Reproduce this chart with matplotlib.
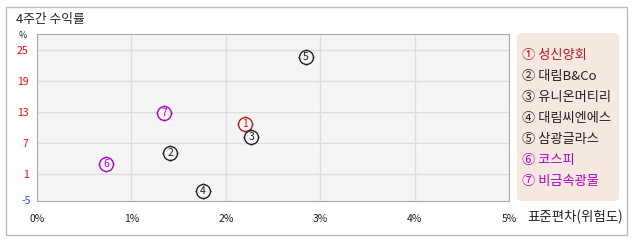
import matplotlib.pyplot as plt
from matplotlib.patches import Rectangle, FancyBboxPatch

plt.rcParams['font.family'] = ['Noto Sans CJK KR', 'DejaVu Sans']

# data
names = ['성신양회', '대림B&Co', '유니온머티리', '대림씨엔에스', '삼광글라스', '코스피', '비금속광물']
marks = ['①', '②', '③', '④', '⑤', '⑥', '⑦']
risk = [2.20, 1.41, 2.27, 1.76, 2.85, 0.73, 1.35]      # 표준편차 (%)
ret = [10.6, 5.0, 8.1, -2.2, 23.6, 3.0, 12.8]          # 4주간 수익률 (%)
colors = ['#b01e1e', '#222222', '#222222', '#222222', '#222222', '#b000c8', '#b000c8']

xticks = [0, 1, 2, 3, 4, 5]
yticks = [1, 7, 13, 19, 25]

W, H = 638, 242
fig = plt.figure(figsize=(W / 100, H / 100), dpi=100)


def box(x0, y0, x1, y1):
    # pixel box (top-left origin) -> figure fraction rect
    return [x0 / W, (H - y1) / H, (x1 - x0) / W, (y1 - y0) / H]


# outer frame
fig.patches.append(Rectangle((6 / W, (H - 235) / H), 621 / W, 228 / H,
                             transform=fig.transFigure, fill=False,
                             edgecolor='#bbbbbb', linewidth=1))

fig.text(16 / W, 1 - 19 / H, '4주간 수익률', fontsize=9.2, color='#222222', va='center')

ax = fig.add_axes(box(37, 34, 509, 201))
ax.set_facecolor('#f5f5f5')
ax.set_xlim(0, 5)
ax.set_ylim(-4.22, 28.1)
ax.set_xticks(xticks)
ax.set_yticks(yticks)
ax.grid(True, color='#dcdcdc', linewidth=1)
ax.set_axisbelow(True)
for s in ax.spines.values():
    s.set_color('#aaaaaa')
ax.tick_params(length=0, labelsize=7.5)
ax.set_xticklabels([f'{t}%' for t in xticks], color='#222222')
ax.set_yticklabels([str(t) for t in yticks], color='red')
ax.tick_params(axis='x', pad=9)
ax.tick_params(axis='y', pad=6)
ax.text(-0.013, 0, '-5', transform=ax.transAxes, ha='right', va='center',
        fontsize=7.5, color='#3344ff')
ax.text(-0.021, 0.99, '%', transform=ax.transAxes, ha='right', va='center',
        fontsize=6.5, color='#222222')
fig.text(527 / W, 1 - 217 / H, '표준편차(위험도)', fontsize=9.7, color='#222222', va='center')

for i in range(len(names)):
    ax.plot(risk[i], ret[i], marker='+', markersize=12, color=colors[i], mew=1, zorder=3)
    ax.plot(risk[i], ret[i], marker='o', markersize=10, mfc='#f5f5f5', mec=colors[i],
            mew=1, zorder=4)
    ax.text(risk[i], ret[i], str(i + 1), ha='center', va='center', fontsize=7.5,
            color=colors[i], zorder=5)

# legend box
lx0, ly0, lx1, ly1 = 517, 33, 619, 201
lax = fig.add_axes(box(lx0, ly0, lx1, ly1))
lax.set_xlim(0, lx1 - lx0)
lax.set_ylim(ly1 - ly0, 0)
lax.axis('off')
lax.add_patch(FancyBboxPatch((5, 5), lx1 - lx0 - 10, ly1 - ly0 - 10,
                             boxstyle='round,pad=5', facecolor='#f5e8e1',
                             edgecolor='none'))
for i in range(len(names)):
    lax.text(5, 55 - ly0 + i * 21.1, marks[i] + ' ' + names[i], fontsize=9.5,
             color=colors[i], va='center', ha='left')

fig.savefig('out.png', dpi=100)
